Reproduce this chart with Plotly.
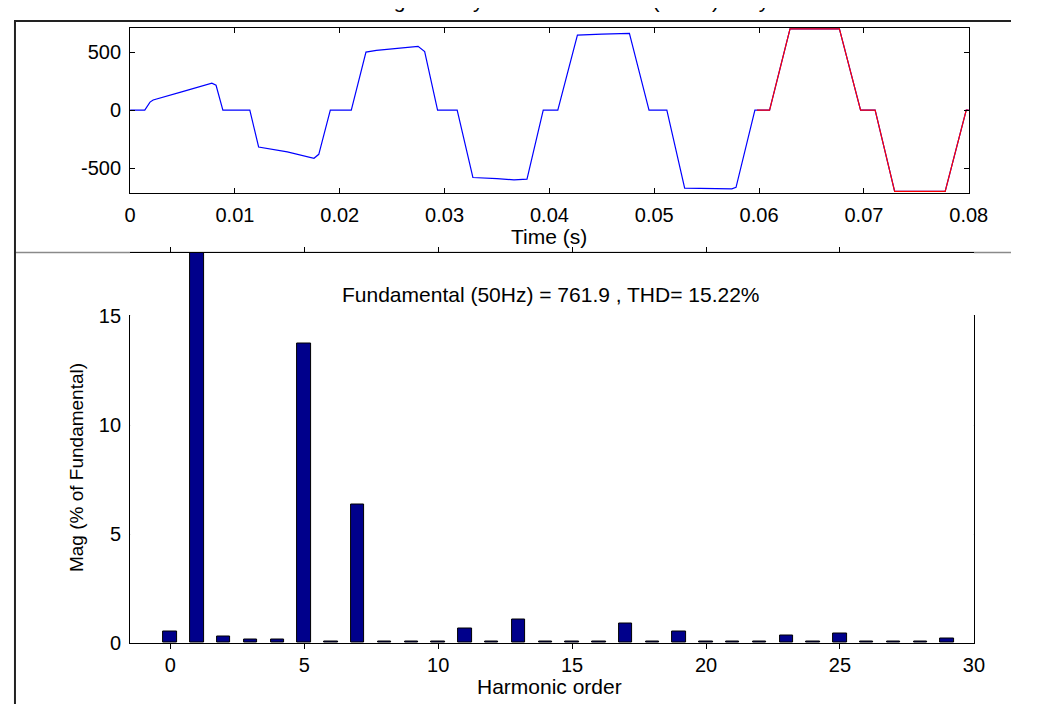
import plotly.graph_objects as go

# ---------------- data ----------------
# full selected signal (blue)
t_signal = [0.0, 0.0014, 0.0019, 0.0022, 0.0050, 0.0078, 0.0082, 0.00885, 0.01142, 0.01226,
            0.0150, 0.01754, 0.0180, 0.0191, 0.0211, 0.0225, 0.0235, 0.02747, 0.0281, 0.02933,
            0.0312, 0.0327, 0.0350, 0.03662, 0.03786, 0.03941, 0.0408, 0.04267, 0.0450, 0.04763,
            0.0495, 0.0512, 0.0529, 0.0560, 0.0574, 0.0578, 0.0596, 0.0600, 0.0610, 0.06295,
            0.06766, 0.06968, 0.07107, 0.07293, 0.07775, 0.07976, 0.0800]
v_signal = [0, 0, 70, 88, 160, 233, 215, 0, 0, -317,
            -360, -414, -380, 0, 0, 500, 515, 550, 505, 0,
            0, -580, -590, -600, -594, 0, 0, 647, 655, 661,
            0, 0, -672, -675, -678, -665, 0, 0, 0, 700,
            700, 0, 0, -700, -700, 0, 0]

# FFT window (red), last cycle
t_window = [0.0598, 0.0610, 0.06295, 0.06766, 0.06968, 0.07107, 0.07293, 0.07775, 0.07976, 0.0800]
v_window = [0, 0, 700, 700, 0, 0, -700, -700, 0, 0]

# harmonic spectrum (% of fundamental)
harmonic_order = list(range(30))
harmonic_mag = [0.52, 100, 0.28, 0.15, 0.15, 13.75, 0.06, 6.34, 0.06, 0.06,
                0.06, 0.66, 0.06, 1.09, 0.06, 0.06, 0.06, 0.88, 0.06, 0.52,
                0.06, 0.06, 0.06, 0.36, 0.06, 0.45, 0.06, 0.06, 0.06, 0.21]

time_ticks = [0, 0.01, 0.02, 0.03, 0.04, 0.05, 0.06, 0.07, 0.08]
time_ticklabels = ["0", "0.01", "0.02", "0.03", "0.04", "0.05", "0.06", "0.07", "0.08"]
signal_ticks = [-500, 0, 500]
signal_ticklabels = ["-500", "0", "500"]
order_ticks = [0, 5, 10, 15, 20, 25, 30]
mag_ticks = [0, 5, 10, 15]

title_top = "Selected signal: 4 cycles. FFT window (in red): 1 cycles"
title_fft = "Fundamental (50Hz) = 761.9 , THD= 15.22%"

# ---------------- layout helpers ----------------
# the page body keeps an 8 px margin, so the figure is 16 px smaller than the window
OFF = 8
W, H = 1038 - 2 * OFF, 723 - 2 * OFF
def px(x):
    return (x - OFF) / W
def py(y):
    return 1 - (y - OFF) / H

FONT = "Liberation Sans, Arial, Helvetica, sans-serif"

fig = go.Figure()

fig.add_trace(go.Scatter(x=t_signal, y=v_signal, mode="lines",
                         line=dict(color="#0000FF", width=1.2),
                         xaxis="x", yaxis="y", showlegend=False, hoverinfo="skip"))
fig.add_trace(go.Scatter(x=t_window, y=v_window, mode="lines",
                         line=dict(color="#FF0000", width=1.2),
                         xaxis="x", yaxis="y", showlegend=False, hoverinfo="skip"))

fig.add_trace(go.Bar(x=harmonic_order, y=harmonic_mag, width=0.5,
                     marker=dict(color="rgb(0,0,139)", line=dict(color="black", width=1)),
                     xaxis="x2", yaxis="y3", showlegend=False))
# empty trace so the framed spectrum axes exist
fig.add_trace(go.Scatter(x=[], y=[], xaxis="x2", yaxis="y2", showlegend=False))

axis_common = dict(showline=True, linecolor="black", linewidth=1, mirror="allticks",
                   ticks="inside", ticklen=5, tickcolor="black", showgrid=False,
                   zeroline=False, tickfont=dict(size=20, color="black", family=FONT),
                   ticklabelstandoff=4)

fig.update_layout(
    width=W, height=H,
    margin=dict(l=0, r=0, t=0, b=0),
    paper_bgcolor="white", plot_bgcolor="white",
    font=dict(family=FONT, color="black"),
    bargap=0,
    xaxis=dict(domain=[px(127), px(986.7)], anchor="y", range=[0, 0.08],
               tickvals=time_ticks, ticktext=time_ticklabels, **axis_common),
    yaxis=dict(domain=[py(188), py(17.3)], anchor="x", range=[-717, 708],
               tickvals=signal_ticks, ticktext=signal_ticklabels, **axis_common),
    xaxis2=dict(domain=[px(127), px(992)], anchor="y2", range=[-1.5, 30],
                tickvals=order_ticks, **axis_common),
    yaxis2=dict(domain=[py(652), py(315)], anchor="x2", range=[0, 15],
                tickvals=mag_ticks, **axis_common),
    yaxis3=dict(domain=[py(652), py(249)], anchor="x2", range=[0, 15 * (652 - 249) / (652 - 315)],
                visible=False),
    annotations=[
        dict(text="Time (s)", x=px(556), y=py(232), xref="paper", yref="paper",
             showarrow=False, font=dict(size=21, family=FONT), xanchor="center", yanchor="middle"),
        dict(text="Harmonic order", x=px(557), y=py(697), xref="paper", yref="paper",
             showarrow=False, font=dict(size=21, family=FONT), xanchor="center", yanchor="middle"),
        dict(text="Mag (% of Fundamental)", x=px(72), y=py(471), xref="paper", yref="paper",
             showarrow=False, textangle=-90, font=dict(size=19, family=FONT),
             xanchor="center", yanchor="middle"),
        dict(text=title_fft, x=px(558), y=py(292), xref="paper", yref="paper",
             showarrow=False, font=dict(size=21, family=FONT), xanchor="center", yanchor="middle"),
        # window title, cut off by the top edge as in the original figure
        dict(text=title_top, x=px(556), y=py(3), xref="paper", yref="paper",
             showarrow=False, font=dict(size=21, family=FONT), xanchor="center", yanchor="bottom"),
    ],
    shapes=[
        dict(type="line", xref="paper", yref="paper", x0=px(9), x1=px(9), y0=0, y1=py(10),
             line=dict(color="#222222", width=2), layer="above"),
        dict(type="line", xref="paper", yref="paper", x0=px(8), x1=1, y0=py(10), y1=py(10),
             line=dict(color="#222222", width=2), layer="above"),
        dict(type="line", xref="paper", yref="paper", x0=px(8), x1=1, y0=py(249), y1=py(249),
             line=dict(color="#8a8a8a", width=1.5), layer="below"),
    ],
)

fig.write_html("out.html")
